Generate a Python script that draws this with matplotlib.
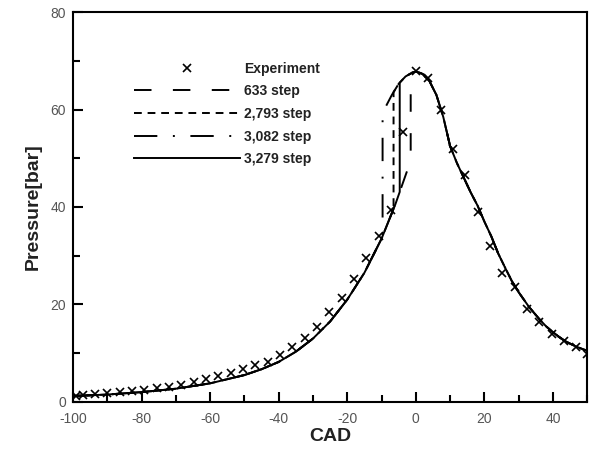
import numpy as np
import matplotlib.pyplot as plt

plt.rcParams['font.family'] = ['Liberation Sans', 'DejaVu Sans']
plt.rcParams['axes.unicode_minus'] = False

# experiment points
exp_cad = [-99.0, -97.2, -93.6, -90.0, -86.4, -82.8, -79.2, -75.6, -72.0, -68.4,
           -64.8, -61.2, -57.6, -54.0, -50.4, -46.8, -43.2, -39.6, -36.0, -32.4,
           -28.8, -25.2, -21.6, -18.0, -14.4, -10.8, -7.2, -3.6, 0.0, 3.6,
           7.2, 10.8, 14.4, 18.0, 21.6, 25.2, 28.8, 32.4, 36.0, 39.6,
           43.2, 46.8, 49.8]
exp_p = [1.3, 1.4, 1.6, 1.8, 2.0, 2.2, 2.5, 2.8, 3.1, 3.5,
         4.0, 4.6, 5.3, 6.0, 6.8, 7.5, 8.2, 9.6, 11.3, 13.1,
         15.4, 18.5, 21.3, 25.2, 29.5, 34.0, 39.4, 55.4, 68.0, 66.5,
         60.0, 52.0, 46.5, 39.0, 32.0, 26.5, 23.5, 19.0, 16.4, 14.0,
         12.5, 11.2, 9.9]

# compression branch (before ignition)
comp_cad = [-100, -90, -80, -70, -60, -50, -45, -40, -35, -30, -25, -20, -15,
            -10, -8, -6, -4, -2, -1]
comp_p = [1.2, 1.5, 2.0, 2.7, 3.8, 5.5, 6.7, 8.2, 10.3, 13.0, 16.5, 21.0, 26.5,
          33.5, 37.0, 40.5, 44.5, 48.5, 50.5]

# combustion branch (after ignition)
comb_cad = [-10, -9, -7, -5, -3, -1, 0, 1, 2, 4, 6, 8, 10, 12, 14, 16, 18, 20,
            22, 24, 26, 28, 30, 33, 36, 38, 40, 42, 44, 46, 48, 50]
comb_p = [59.0, 60.3, 63.0, 65.3, 66.8, 67.6, 67.8, 67.6, 67.3, 65.8, 63.0, 58.5,
          52.5, 49.0, 46.0, 43.0, 40.3, 37.0, 34.0, 30.5, 27.6, 24.8, 22.5, 19.5,
          17.0, 15.5, 14.3, 13.2, 12.3, 11.6, 11.0, 10.5]

labels = ['633 step', '2,793 step', '3,082 step', '3,279 step']
ignition = [-1.5, -6.5, -9.7, -4.7]
styles = [(0, (9, 11)), (0, (4, 3)), (0, (12, 8, 1, 8)), '-']


def model_curve(ign):
    xc = np.array(comp_cad, float)
    yc = np.array(comp_p, float)
    xb = np.array(comb_cad, float)
    yb = np.array(comb_p, float)
    lo = np.interp(ign, xc, yc)
    hi = np.interp(ign, xb, yb)
    x = np.concatenate([xc[xc < ign], [ign, ign], xb[xb > ign]])
    y = np.concatenate([yc[xc < ign], [lo, hi], yb[xb > ign]])
    return x, y


fig = plt.figure(figsize=(5.89, 4.5), dpi=100)
ax = fig.add_axes([0.124, 0.107, 0.873, 0.866])

ax.plot(exp_cad, exp_p, 'x', color='black', ms=6, mew=1.2, label='Experiment')
for lab, ign, ls in zip(labels, ignition, styles):
    x, y = model_curve(ign)
    ax.plot(x, y, color='black', lw=1.4, linestyle=ls, label=lab)

ax.set_xlim(-100, 50)
ax.set_ylim(0, 80)
ax.set_xticks(np.arange(-100, 41, 20))
ax.set_xticks(np.arange(-90, 51, 20), minor=True)
ax.set_yticks(np.arange(0, 81, 20))
ax.set_yticks(np.arange(10, 80, 20), minor=True)
ax.tick_params(which='both', direction='in', width=1.5, colors='black',
               labelcolor='#555555', labelsize=10)
ax.tick_params(which='major', length=7)
ax.tick_params(which='minor', length=5)
ax.tick_params(axis='x', pad=7)
ax.tick_params(axis='y', pad=5)
for s in ax.spines.values():
    s.set_linewidth(1.5)

ax.set_xlabel('CAD', fontsize=14, fontweight='bold', color='#222222', labelpad=2)
ax.set_ylabel('Pressure[bar]', fontsize=14, fontweight='bold', color='#222222',
              labelpad=6)

leg = ax.legend(loc='upper left', bbox_to_anchor=(0.095, 0.905), frameon=False,
                handlelength=7.6, handletextpad=0.3, labelspacing=0.62,
                prop={'weight': 'bold', 'size': 10})
for t in leg.get_texts():
    t.set_color('#222222')

plt.savefig('out.png', dpi=100)
